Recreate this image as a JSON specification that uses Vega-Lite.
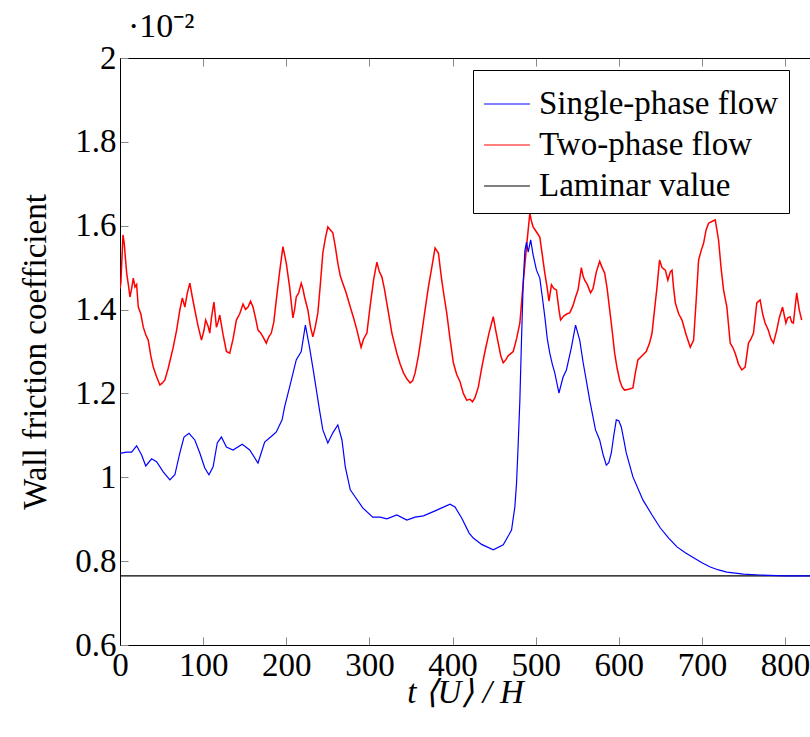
{
  "$schema": "https://vega.github.io/schema/vega-lite/v6.json",
  "autosize": "none",
  "width": 690,
  "height": 587,
  "padding": {"left": 120, "top": 58, "right": 0, "bottom": 92},
  "background": "white",
  "config": {"view": {"stroke": null}},
  "title": {"text": "·10⁻²", "anchor": "start", "frame": "group", "dx": 8, "offset": -2, "fontSize": 34, "font": "Liberation Serif", "fontWeight": "normal", "color": "black"},
  "datasets": {
    "blue": [
      {"t":0,"v":1.057},{"t":8,"v":1.06},{"t":14,"v":1.06},{"t":20,"v":1.075},{"t":26,"v":1.053},{"t":31,"v":1.027},{"t":38,"v":1.044},{"t":44,"v":1.037},{"t":52,"v":1.013},{"t":60,"v":0.994},{"t":66,"v":1.006},{"t":72,"v":1.058},{"t":77,"v":1.096},{"t":83,"v":1.105},{"t":90,"v":1.089},{"t":96,"v":1.058},{"t":102,"v":1.022},{"t":107,"v":1.006},{"t":112,"v":1.025},{"t":117,"v":1.082},{"t":122,"v":1.096},{"t":128,"v":1.072},{"t":136,"v":1.065},{"t":147,"v":1.079},{"t":156,"v":1.065},{"t":166,"v":1.034},{"t":174,"v":1.084},{"t":184,"v":1.101},{"t":188,"v":1.108},{"t":195,"v":1.137},{"t":198,"v":1.168},{"t":204,"v":1.215},{"t":212,"v":1.28},{"t":218,"v":1.3},{"t":223,"v":1.363},{"t":228,"v":1.31},{"t":233,"v":1.249},{"t":240,"v":1.16},{"t":244,"v":1.113},{"t":250,"v":1.082},{"t":256,"v":1.106},{"t":262,"v":1.125},{"t":267,"v":1.089},{"t":271,"v":1.025},{"t":277,"v":0.97},{"t":283,"v":0.953},{"t":292,"v":0.927},{"t":304,"v":0.905},{"t":313,"v":0.905},{"t":321,"v":0.901},{"t":333,"v":0.91},{"t":345,"v":0.898},{"t":355,"v":0.905},{"t":365,"v":0.908},{"t":379,"v":0.92},{"t":387,"v":0.927},{"t":397,"v":0.936},{"t":403,"v":0.929},{"t":411,"v":0.903},{"t":420,"v":0.867},{"t":425,"v":0.855},{"t":435,"v":0.84},{"t":449,"v":0.827},{"t":461,"v":0.839},{"t":471,"v":0.874},{"t":475,"v":0.93},{"t":477,"v":0.986},{"t":479,"v":1.08},{"t":481,"v":1.184},{"t":483,"v":1.33},{"t":485,"v":1.463},{"t":487,"v":1.54},{"t":489,"v":1.561},{"t":491,"v":1.537},{"t":494,"v":1.566},{"t":497,"v":1.53},{"t":501,"v":1.494},{"t":505,"v":1.475},{"t":508,"v":1.43},{"t":511,"v":1.383},{"t":514,"v":1.33},{"t":517,"v":1.296},{"t":520,"v":1.27},{"t":523,"v":1.249},{"t":528,"v":1.201},{"t":533,"v":1.239},{"t":537,"v":1.256},{"t":543,"v":1.31},{"t":548,"v":1.363},{"t":553,"v":1.327},{"t":557,"v":1.275},{"t":561,"v":1.23},{"t":565,"v":1.184},{"t":572,"v":1.113},{"t":577,"v":1.089},{"t":581,"v":1.055},{"t":585,"v":1.029},{"t":588,"v":1.035},{"t":591,"v":1.058},{"t":594,"v":1.1},{"t":597,"v":1.137},{"t":600,"v":1.135},{"t":603,"v":1.12},{"t":606,"v":1.09},{"t":609,"v":1.058},{"t":617,"v":1.001},{"t":629,"v":0.946},{"t":640,"v":0.91},{"t":650,"v":0.879},{"t":660,"v":0.855},{"t":670,"v":0.834},{"t":680,"v":0.82},{"t":690,"v":0.808},{"t":700,"v":0.796},{"t":710,"v":0.786},{"t":720,"v":0.779},{"t":730,"v":0.774},{"t":750,"v":0.769},{"t":770,"v":0.767},{"t":800,"v":0.765},{"t":830,"v":0.765}
    ],
    "red": [
      {"t":0,"v":1.45},{"t":1,"v":1.463},{"t":3.6,"v":1.578},{"t":5,"v":1.56},{"t":8,"v":1.487},{"t":10,"v":1.46},{"t":12,"v":1.43},{"t":14,"v":1.45},{"t":16,"v":1.475},{"t":18,"v":1.454},{"t":20,"v":1.46},{"t":22,"v":1.406},{"t":25,"v":1.39},{"t":28,"v":1.358},{"t":31,"v":1.34},{"t":34,"v":1.327},{"t":37,"v":1.29},{"t":40,"v":1.263},{"t":44,"v":1.24},{"t":48,"v":1.22},{"t":51,"v":1.225},{"t":54,"v":1.232},{"t":58,"v":1.26},{"t":64,"v":1.31},{"t":68,"v":1.35},{"t":72,"v":1.399},{"t":75,"v":1.428},{"t":78,"v":1.406},{"t":81,"v":1.44},{"t":84,"v":1.463},{"t":87,"v":1.43},{"t":90,"v":1.399},{"t":94,"v":1.36},{"t":98,"v":1.327},{"t":101,"v":1.35},{"t":103,"v":1.375},{"t":106,"v":1.36},{"t":108,"v":1.344},{"t":110,"v":1.38},{"t":113,"v":1.418},{"t":116,"v":1.358},{"t":118,"v":1.37},{"t":120,"v":1.387},{"t":124,"v":1.34},{"t":128,"v":1.3},{"t":132,"v":1.296},{"t":136,"v":1.33},{"t":140,"v":1.375},{"t":144,"v":1.39},{"t":148,"v":1.413},{"t":151,"v":1.4},{"t":154,"v":1.406},{"t":157,"v":1.42},{"t":160,"v":1.406},{"t":163,"v":1.38},{"t":166,"v":1.351},{"t":169,"v":1.345},{"t":172,"v":1.335},{"t":176,"v":1.32},{"t":179,"v":1.335},{"t":182,"v":1.344},{"t":185,"v":1.37},{"t":188,"v":1.423},{"t":192,"v":1.49},{"t":196,"v":1.55},{"t":200,"v":1.511},{"t":204,"v":1.454},{"t":208,"v":1.38},{"t":210,"v":1.4},{"t":212,"v":1.43},{"t":215,"v":1.44},{"t":218,"v":1.463},{"t":220,"v":1.45},{"t":222,"v":1.43},{"t":226,"v":1.399},{"t":229,"v":1.36},{"t":232,"v":1.335},{"t":235,"v":1.36},{"t":238,"v":1.392},{"t":241,"v":1.46},{"t":244,"v":1.535},{"t":247,"v":1.57},{"t":250,"v":1.597},{"t":253,"v":1.59},{"t":256,"v":1.583},{"t":259,"v":1.55},{"t":262,"v":1.511},{"t":265,"v":1.48},{"t":268,"v":1.463},{"t":272,"v":1.44},{"t":277,"v":1.406},{"t":281,"v":1.38},{"t":285,"v":1.351},{"t":290,"v":1.31},{"t":293,"v":1.33},{"t":297,"v":1.344},{"t":301,"v":1.41},{"t":305,"v":1.47},{"t":309,"v":1.513},{"t":312,"v":1.49},{"t":315,"v":1.478},{"t":318,"v":1.45},{"t":321,"v":1.415},{"t":324,"v":1.38},{"t":327,"v":1.344},{"t":330,"v":1.32},{"t":333,"v":1.296},{"t":337,"v":1.27},{"t":341,"v":1.249},{"t":345,"v":1.235},{"t":349,"v":1.225},{"t":352,"v":1.23},{"t":355,"v":1.249},{"t":359,"v":1.29},{"t":363,"v":1.344},{"t":367,"v":1.4},{"t":371,"v":1.454},{"t":375,"v":1.5},{"t":379,"v":1.547},{"t":383,"v":1.535},{"t":387,"v":1.47},{"t":390,"v":1.43},{"t":393,"v":1.392},{"t":397,"v":1.33},{"t":401,"v":1.273},{"t":405,"v":1.245},{"t":409,"v":1.228},{"t":413,"v":1.2},{"t":417,"v":1.184},{"t":421,"v":1.186},{"t":424,"v":1.18},{"t":427,"v":1.19},{"t":431,"v":1.215},{"t":435,"v":1.26},{"t":439,"v":1.3},{"t":444,"v":1.345},{"t":449,"v":1.383},{"t":452,"v":1.35},{"t":455,"v":1.32},{"t":458,"v":1.29},{"t":461,"v":1.273},{"t":464,"v":1.28},{"t":467,"v":1.29},{"t":470,"v":1.295},{"t":473,"v":1.3},{"t":477,"v":1.33},{"t":481,"v":1.368},{"t":485,"v":1.463},{"t":489,"v":1.55},{"t":493,"v":1.63},{"t":495,"v":1.61},{"t":497,"v":1.597},{"t":501,"v":1.585},{"t":505,"v":1.573},{"t":508,"v":1.53},{"t":511,"v":1.487},{"t":514,"v":1.45},{"t":516,"v":1.42},{"t":519,"v":1.459},{"t":522,"v":1.45},{"t":525,"v":1.447},{"t":528,"v":1.4},{"t":530,"v":1.375},{"t":534,"v":1.385},{"t":538,"v":1.39},{"t":541,"v":1.392},{"t":545,"v":1.41},{"t":548,"v":1.43},{"t":551,"v":1.447},{"t":555,"v":1.5},{"t":557,"v":1.48},{"t":559,"v":1.47},{"t":562,"v":1.46},{"t":566,"v":1.44},{"t":569,"v":1.45},{"t":573,"v":1.49},{"t":577,"v":1.515},{"t":580,"v":1.5},{"t":583,"v":1.487},{"t":586,"v":1.45},{"t":589,"v":1.4},{"t":592,"v":1.35},{"t":595,"v":1.296},{"t":598,"v":1.26},{"t":601,"v":1.232},{"t":604,"v":1.215},{"t":607,"v":1.208},{"t":612,"v":1.21},{"t":617,"v":1.213},{"t":620,"v":1.25},{"t":623,"v":1.28},{"t":628,"v":1.29},{"t":633,"v":1.3},{"t":637,"v":1.32},{"t":640,"v":1.344},{"t":643,"v":1.4},{"t":646,"v":1.454},{"t":649,"v":1.518},{"t":652,"v":1.5},{"t":656,"v":1.494},{"t":659,"v":1.47},{"t":662,"v":1.49},{"t":664,"v":1.494},{"t":666,"v":1.45},{"t":668,"v":1.416},{"t":672,"v":1.39},{"t":676,"v":1.375},{"t":681,"v":1.34},{"t":686,"v":1.31},{"t":690,"v":1.327},{"t":693,"v":1.42},{"t":696,"v":1.518},{"t":699,"v":1.54},{"t":702,"v":1.558},{"t":705,"v":1.59},{"t":708,"v":1.606},{"t":712,"v":1.61},{"t":716,"v":1.614},{"t":718,"v":1.59},{"t":720,"v":1.566},{"t":723,"v":1.5},{"t":726,"v":1.447},{"t":730,"v":1.406},{"t":734,"v":1.32},{"t":737,"v":1.31},{"t":740,"v":1.296},{"t":744,"v":1.27},{"t":748,"v":1.256},{"t":752,"v":1.263},{"t":756,"v":1.32},{"t":759,"v":1.33},{"t":762,"v":1.344},{"t":766,"v":1.416},{"t":770,"v":1.423},{"t":773,"v":1.39},{"t":776,"v":1.368},{"t":780,"v":1.35},{"t":783,"v":1.33},{"t":786,"v":1.32},{"t":790,"v":1.351},{"t":793,"v":1.38},{"t":797,"v":1.406},{"t":801,"v":1.368},{"t":803,"v":1.38},{"t":806,"v":1.383},{"t":808,"v":1.37},{"t":810,"v":1.368},{"t":814,"v":1.44},{"t":817,"v":1.4},{"t":820,"v":1.375}
    ],
    "laminar": [{"t":0,"v":0.765},{"t":830,"v":0.765}]
  },
  "resolve": {"axis": {"x": "independent"}},
  "layer": [
    {
      "data": {"name": "laminar"},
      "transform": [{"calculate": "'Laminar value'", "as": "series"}],
      "mark": {"type": "line", "strokeWidth": 1.2, "clip": true},
      "encoding": {
        "x": {"field": "t", "type": "quantitative", "scale": {"domain": [0, 830], "nice": false},
          "axis": {"orient": "top", "labels": false, "title": null, "values": [0,100,200,300,400,500,600,700,800], "tickSize": -8, "tickWidth": 1, "tickColor": "#888888", "domainColor": "black", "grid": false}},
        "y": {"field": "v", "type": "quantitative", "scale": {"domain": [0.6, 2], "nice": false, "zero": false},
          "axis": {"title": "Wall friction coefficient", "titleFont": "Liberation Serif", "titleFontWeight": "normal", "titleFontSize": 33, "titleColor": "black", "titlePadding": 22, "values": [0.6,0.8,1,1.2,1.4,1.6,1.8,2], "format": ".1~f", "labelFont": "Liberation Serif", "labelFontSize": 33, "labelColor": "black", "labelPadding": 12, "labelFlush": false, "labelOverlap": false, "tickSize": -8, "tickWidth": 1, "tickColor": "#888888", "domainColor": "black", "grid": false}},
        "color": {"field": "series", "type": "nominal", "scale": {"domain": ["Single-phase flow", "Two-phase flow", "Laminar value"], "range": ["#0000ff", "#ff0000", "#000000"]},
          "legend": {"title": null, "orient": "none", "legendX": 353, "legendY": 12, "fillColor": "white", "strokeColor": "black", "padding": 10, "labelFont": "Liberation Serif", "labelFontSize": 33, "labelColor": "black", "labelExpr": "datum.label + '  '", "symbolType": "stroke", "symbolSize": 2100, "symbolStrokeWidth": 1.2, "rowPadding": 0, "labelLimit": 400, "labelOffset": 8}}
      }
    },
    {
      "data": {"name": "red"},
      "transform": [{"calculate": "'Two-phase flow'", "as": "series"}],
      "mark": {"type": "line", "strokeWidth": 1.5, "clip": true},
      "encoding": {
        "x": {"field": "t", "type": "quantitative", "axis": null},
        "y": {"field": "v", "type": "quantitative"},
        "color": {"field": "series", "type": "nominal"}
      }
    },
    {
      "data": {"name": "blue"},
      "transform": [{"calculate": "'Single-phase flow'", "as": "series"}],
      "mark": {"type": "line", "strokeWidth": 1.2, "clip": true},
      "encoding": {
        "x": {"field": "t", "type": "quantitative",
          "axis": {"orient": "bottom", "title": "t ⟨U⟩ / H", "titleFont": "Liberation Serif", "titleFontStyle": "italic", "titleFontWeight": "normal", "titleFontSize": 33, "titleColor": "black", "titlePadding": -6, "values": [0,100,200,300,400,500,600,700,800], "labelFont": "Liberation Serif", "labelFontSize": 33, "labelColor": "black", "labelPadding": 12, "labelFlush": false, "labelOverlap": false, "tickSize": -8, "tickWidth": 1, "tickColor": "#888888", "domainColor": "black", "grid": false}},
        "y": {"field": "v", "type": "quantitative"},
        "color": {"field": "series", "type": "nominal"}
      }
    }
  ]
}
